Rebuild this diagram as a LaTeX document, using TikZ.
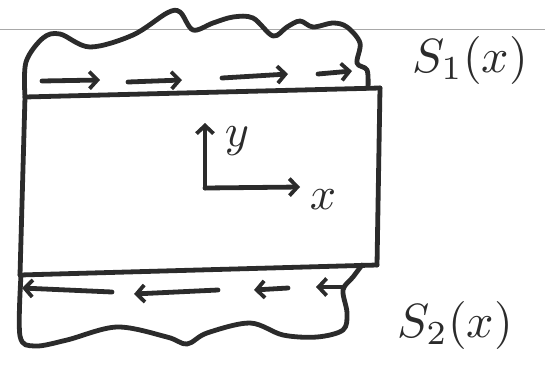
\documentclass[tikz,border=0pt]{standalone}
\usepackage{graphicx}
\usetikzlibrary{arrows.meta}
\definecolor{SketchInk}{HTML}{2B2B2B}
\definecolor{RuleGray}{HTML}{A8A8A8}
\tikzset{ink/.style={draw=SketchInk,line width=4.8pt,line cap=round,line join=round},
  flow/.style={ink,-{Straight Barb[length=8pt,width=17pt,line width=3.8pt]}},
  handlabel/.style={text=SketchInk,inner sep=0pt}}

\begin{document}
\begin{tikzpicture}[x=1pt,y=-1pt]
  \useasboundingbox (0,0) rectangle (545,370);
  \draw[RuleGray,line width=0.6pt] (0,29)--(545,29);
  \coordinate (TL) at (25,97); \coordinate (TR) at (380,88); \coordinate (BL) at (20,275); \coordinate (BR) at (377,265);
  % the channel walls
  \draw[ink] (TL)--(TR); \draw[ink] (BL)--(BR); \draw[ink] (TL)--(BL); \draw[ink] (TR)--(BR);
  % upper rough surface
  \draw[ink] plot[smooth,tension=.55] coordinates {(25,97) (26,62) (43,38) (60,34) (90,47) (133,35) (167,13) (180,12) (193,30) (213,23) (233,17) (253,18) (273,36) (287,27) (300,21) (313,27) (333,23) (347,27) (360,43) (357,63) (367,70) (368,88)};
  % lower rough surface
  \draw[ink] plot[smooth,tension=.55] coordinates {(21,275) (20,336) (35,346) (67,340) (117,327) (167,337) (187,344) (207,333) (250,323) (283,335) (317,337) (343,330) (347,313) (343,290) (353,277) (362,265)};
  % flow in the upper layer
  \draw[flow] (42,81)--(100,80); \draw[flow] (128,82)--(182,80); \draw[flow] (222,78)--(288,74); \draw[flow] (318,74)--(352,71);
  % flow in the lower layer
  \draw[flow] (112,292)--(22,288); \draw[flow] (218,290)--(134,294); \draw[flow] (288,288)--(254,290); \draw[flow] (343,287)--(316,287);
  % axes
  \coordinate (O) at (205,188); \coordinate (Ytip) at (205,123); \coordinate (Xtip) at (300,187);
  \draw[flow] (O)--(Ytip); \draw[flow] (O)--(Xtip);
  \node[handlabel] (ylab) at (237,141) {\scalebox{4.6}{$y$}};
  \node[handlabel] (xlab) at (323,200) {\scalebox{4.6}{$x$}};
  \node[handlabel] (sone) at (470,60) {\scalebox{4.8}{$S_1(x)$}};
  \node[handlabel] (stwo) at (455,325) {\scalebox{4.8}{$S_2(x)$}};
\end{tikzpicture}
\end{document}
